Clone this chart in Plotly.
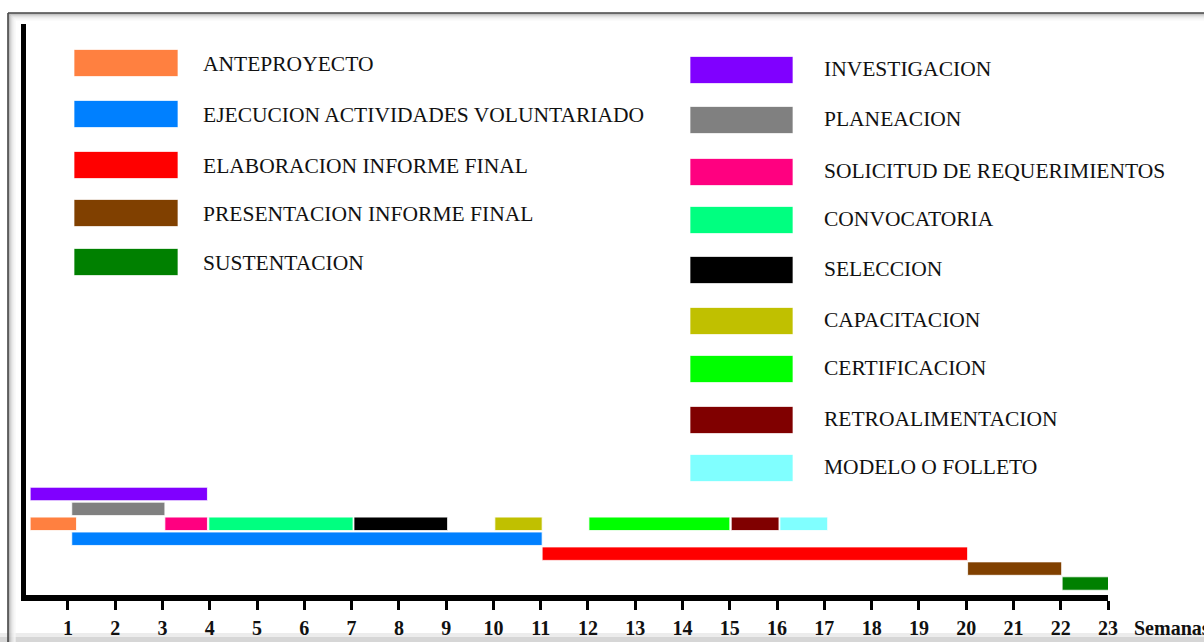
import plotly.graph_objects as go

# ---------------- data ----------------
tasks = ["INVESTIGACION", "PLANEACION", "ANTEPROYECTO", "SOLICITUD DE REQUERIMIENTOS",
         "CONVOCATORIA", "SELECCION", "CAPACITACION", "CERTIFICACION",
         "RETROALIMENTACION", "MODELO O FOLLETO", "EJECUCION ACTIVIDADES VOLUNTARIADO",
         "ELABORACION INFORME FINAL", "PRESENTACION INFORME FINAL", "SUSTENTACION"]
start_week = [0.2, 1.08, 0.2, 3.05, 3.98, 7.05, 10.03, 12.02, 15.03, 16.06, 1.08, 11.03, 20.03, 22.03]
end_week = [3.95, 3.05, 1.18, 3.95, 7.03, 9.03, 11.03, 15.0, 16.04, 17.07, 11.03, 20.03, 22.02, 23.02]
row = [7, 6, 5, 5, 5, 5, 5, 5, 5, 5, 4, 3, 2, 1]
colors = {
    "ANTEPROYECTO": "#FF8040",
    "EJECUCION ACTIVIDADES VOLUNTARIADO": "#0080FF",
    "ELABORACION INFORME FINAL": "#FF0000",
    "PRESENTACION INFORME FINAL": "#804000",
    "SUSTENTACION": "#008000",
    "INVESTIGACION": "#8000FF",
    "PLANEACION": "#808080",
    "SOLICITUD DE REQUERIMIENTOS": "#FF0080",
    "CONVOCATORIA": "#00FF80",
    "SELECCION": "#000000",
    "CAPACITACION": "#C0C000",
    "CERTIFICACION": "#00FF00",
    "RETROALIMENTACION": "#800000",
    "MODELO O FOLLETO": "#80FFFF",
}
legend_left = ["ANTEPROYECTO", "EJECUCION ACTIVIDADES VOLUNTARIADO", "ELABORACION INFORME FINAL",
               "PRESENTACION INFORME FINAL", "SUSTENTACION"]
legend_right = ["INVESTIGACION", "PLANEACION", "SOLICITUD DE REQUERIMIENTOS", "CONVOCATORIA",
                "SELECCION", "CAPACITACION", "CERTIFICACION", "RETROALIMENTACION", "MODELO O FOLLETO"]
week_ticks = list(range(1, 24))
axis_label = "Semanas"

# ---------------- layout helpers (page pixel coordinates) ----------------
W, H = 1204, 642
ML, MR, MT, MB = 26, 96, 24, 47
PW, PH = W - ML - MR, H - MT - MB


def px(x):
    return (x - ML) / PW


def py(y):
    return (H - MB - y) / PH


SERIF = "Liberation Serif, Times New Roman, serif"

fig = go.Figure()
for name, s, e, r in zip(tasks, start_week, end_week, row):
    fig.add_trace(go.Bar(
        y=[r], x=[e - s], base=[s], orientation="h", width=0.9,
        marker=dict(color=colors[name], line=dict(color="rgba(255,255,255,0.8)", width=1)),
        name=name, showlegend=False, hoverinfo="name",
    ))

shapes = []
annotations = []

# frame with soft shadow
shapes.append(dict(type="rect", xref="paper", yref="paper", x0=px(-5), x1=px(1300), y0=py(633), y1=py(660),
                   fillcolor="#ececec", line=dict(width=0), layer="below"))
shapes.append(dict(type="rect", xref="paper", yref="paper", x0=px(-5), x1=px(1300), y0=py(637), y1=py(660),
                   fillcolor="#d6d6d6", line=dict(width=0), layer="below"))
grads = ["#9a9a9a", "#b8b8b8", "#cfcfcf", "#dedede", "#e9e9e9", "#f1f1f1", "#f7f7f7"]
for i, c in enumerate(grads):
    shapes.append(dict(type="line", xref="paper", yref="paper", x0=px(9 + i), x1=px(9 + i),
                       y0=py(14 + i), y1=py(660), line=dict(color=c, width=1.2), layer="below"))
    shapes.append(dict(type="line", xref="paper", yref="paper", x0=px(9 + i), x1=px(1300),
                       y0=py(14 + i), y1=py(14 + i), line=dict(color=c, width=1.2), layer="below"))
shapes.append(dict(type="line", xref="paper", yref="paper", x0=px(8), x1=px(8), y0=py(13), y1=py(660),
                   line=dict(color="#444444", width=1.6)))
shapes.append(dict(type="line", xref="paper", yref="paper", x0=px(8), x1=px(1300), y0=py(13), y1=py(13),
                   line=dict(color="#444444", width=1.6)))

# legend (drawn manually)
left_centers = [63, 114, 165, 213, 262]
right_centers = [70, 120, 172, 220, 270, 321, 369, 420, 468]
for name, cy in zip(legend_left, left_centers):
    shapes.append(dict(type="rect", xref="paper", yref="paper", x0=px(74), x1=px(178),
                       y0=py(cy + 13.5), y1=py(cy - 13.5), fillcolor=colors[name],
                       line=dict(color="rgba(255,255,255,0.7)", width=1)))
    annotations.append(dict(xref="paper", yref="paper", x=px(201), y=py(cy + 1), text=name,
                            showarrow=False, xanchor="left", yanchor="middle",
                            font=dict(family=SERIF, size=21.5, color="#111111")))
for name, cy in zip(legend_right, right_centers):
    shapes.append(dict(type="rect", xref="paper", yref="paper", x0=px(690), x1=px(793),
                       y0=py(cy + 13.5), y1=py(cy - 13.5), fillcolor=colors[name],
                       line=dict(color="rgba(255,255,255,0.7)", width=1)))
    annotations.append(dict(xref="paper", yref="paper", x=px(822), y=py(cy - 1), text=name,
                            showarrow=False, xanchor="left", yanchor="middle",
                            font=dict(family=SERIF, size=21.5, color="#111111")))

annotations.append(dict(xref="paper", yref="paper", x=px(1132), y=py(628), text=axis_label,
                        showarrow=False, xanchor="left", yanchor="middle",
                        font=dict(family=SERIF, size=20, color="#111111", weight="bold")))

fig.update_layout(
    width=W, height=H,
    margin=dict(l=ML, r=MR, t=MT, b=MB, autoexpand=False),
    paper_bgcolor="white", plot_bgcolor="white",
    barmode="overlay",
    shapes=shapes, annotations=annotations,
    xaxis=dict(range=[0.112, 23], showgrid=False, zeroline=False, automargin=False,
               showline=True, linecolor="black", linewidth=6,
               ticks="outside", ticklen=9, tickwidth=3, tickcolor="black",
               tickvals=week_ticks, ticktext=[str(t) for t in week_ticks],
               ticklabelstandoff=1,
               tickfont=dict(family=SERIF, size=20, color="#111111", weight="bold")),
    yaxis=dict(range=[0.23, 38.5], showgrid=False, zeroline=False, automargin=False,
               showline=True, linecolor="black", linewidth=5,
               showticklabels=False, ticks=""),
)

fig.write_html(
    "out.html",
    config={"displayModeBar": False},
    post_script="document.body.style.margin='0';document.body.style.overflow='hidden';"
                "document.documentElement.style.overflow='hidden';",
)
